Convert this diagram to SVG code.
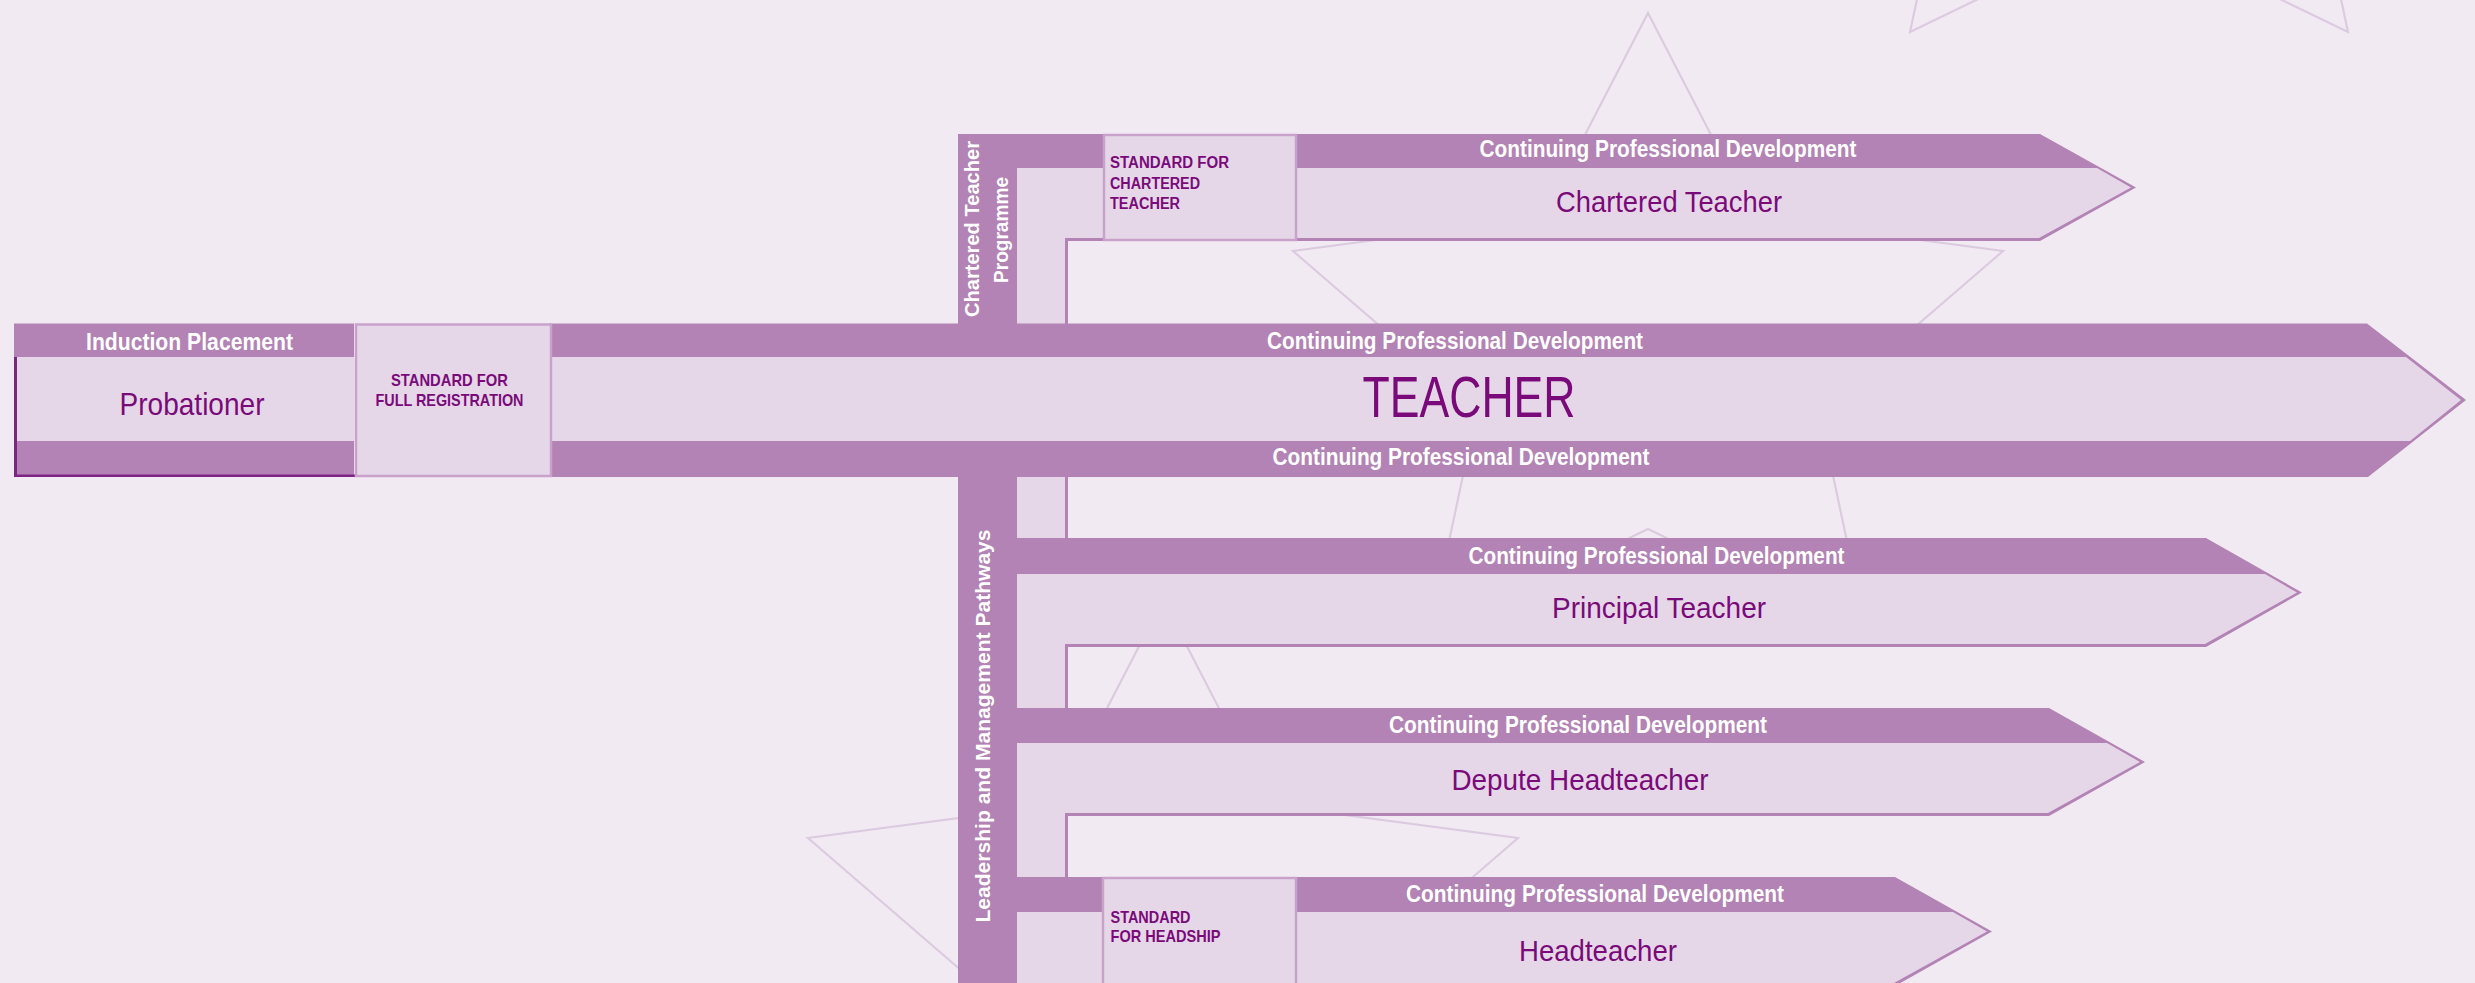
<svg xmlns="http://www.w3.org/2000/svg" xmlns:xlink="http://www.w3.org/1999/xlink" width="2475" height="983" viewBox="0 0 2475 983">
<style>
.bg{fill:#f2eaf2}
.dark{fill:#b283b4}
.light{fill:#e5d7e8}
.std{fill:#e5d7e8;stroke:#c9a2cc;stroke-width:2.5}
.star{fill:none;stroke:#dccbe0;stroke-width:2.2}
.cpd{font-family:"Liberation Sans Narrow","Liberation Sans",Arial,sans-serif;font-weight:bold;font-size:23px;fill:#ffffff;text-anchor:middle}
.role{font-family:"Liberation Sans Narrow","Liberation Sans",Arial,sans-serif;font-size:30px;fill:#7a0a7a;text-anchor:middle}
.big{font-size:57px}
.prob{font-size:32px}
.stdt{font-family:"Liberation Sans Narrow","Liberation Sans",Arial,sans-serif;font-weight:bold;font-size:17px;fill:#7a0a7a}
.small{font-size:16px}
.vert{font-family:"Liberation Sans","DejaVu Sans",Arial,sans-serif;font-weight:bold;font-size:21px;fill:#ffffff;text-anchor:middle}
.vert20{font-size:20px}
</style>
<defs>
<path id="star" d="M0,-344 L106,-139 L355,-106 L171,53 L219,278 L0,172 L-219,278 L-171,53 L-355,-106 L-106,-139 Z"/>
</defs>
<rect class="bg" x="0" y="0" width="2475" height="983"/>
<g id="stars">
<use xlink:href="#star" href="#star" class="star" transform="translate(2129,-246)"/>
<use xlink:href="#star" href="#star" class="star" transform="translate(1648,357)"/>
<use xlink:href="#star" href="#star" class="star" transform="translate(1163,944)"/>
</g>
<g id="connectors">
<rect class="dark" x="958" y="134" width="59" height="190"/>
<rect class="light" x="1017" y="168" width="48" height="156"/>
<rect class="dark" x="1065" y="238" width="3" height="86"/>
<rect class="dark" x="958" y="477" width="59" height="506"/>
<rect class="light" x="1017" y="477" width="48" height="506"/>
<rect class="dark" x="1065" y="477" width="3" height="506"/>
<text class="vert" transform="translate(979,229) rotate(-90)" textLength="176" lengthAdjust="spacingAndGlyphs">Chartered Teacher</text>
<text class="vert" transform="translate(1008,230) rotate(-90)" textLength="106" lengthAdjust="spacingAndGlyphs">Programme</text>
<text class="vert vert20" transform="translate(990,726) rotate(-90)" textLength="393" lengthAdjust="spacingAndGlyphs">Leadership and Management Pathways</text>
</g>
<g id="teacher">
<polygon class="dark" points="549,323.5 2367,323.5 2466,400 2368,477 549,477"/>
<polygon class="light" points="549,357 2406,357 2461,400 2410,441 549,441"/>
<text class="cpd" x="1455" y="348.5" textLength="376" lengthAdjust="spacingAndGlyphs">Continuing Professional Development</text>
<text class="cpd" x="1461" y="465" textLength="377" lengthAdjust="spacingAndGlyphs">Continuing Professional Development</text>
<text class="role big" x="1469" y="417" textLength="213" lengthAdjust="spacingAndGlyphs">TEACHER</text>
</g>
<g id="probationer">
<rect class="dark" x="14" y="323.5" width="340" height="33.5"/>
<rect class="light" x="14" y="357" width="340" height="84"/>
<rect class="dark" x="14" y="441" width="340" height="36"/>
<rect fill="#7e2484" x="14" y="357" width="3" height="120"/>
<rect fill="#7e2484" x="14" y="474.5" width="342" height="2.5"/>
<text class="cpd" x="189.5" y="350" textLength="207" lengthAdjust="spacingAndGlyphs">Induction Placement</text>
<text class="role prob" x="192" y="415" textLength="145" lengthAdjust="spacingAndGlyphs">Probationer</text>
</g>
<g id="standard-full-registration">
<rect class="std" x="356" y="324.5" width="195" height="151.5"/>
<text class="stdt" x="449.5" y="385.7" text-anchor="middle" textLength="117" lengthAdjust="spacingAndGlyphs">STANDARD FOR</text>
<text class="stdt" x="449.5" y="405.7" text-anchor="middle" textLength="148" lengthAdjust="spacingAndGlyphs">FULL REGISTRATION</text>
</g>
<g id="chartered-teacher">
<polygon class="dark" points="1017,134 2040,134 2136,187.5 2040,241 1017,241"/>
<polygon class="light" points="1017,168 2097,168 2131,187.5 2039,238 1065,238 1065,241 1017,241"/>
<text class="cpd" x="1668" y="157" textLength="377" lengthAdjust="spacingAndGlyphs">Continuing Professional Development</text>
<text class="role" x="1669" y="212" textLength="226" lengthAdjust="spacingAndGlyphs">Chartered Teacher</text>
</g>
<g id="standard-chartered-teacher">
<rect class="std" x="1104" y="135" width="192" height="105"/>
<text class="stdt small" x="1110" y="168" textLength="119" lengthAdjust="spacingAndGlyphs">STANDARD FOR</text>
<text class="stdt small" x="1110" y="188.5" textLength="90" lengthAdjust="spacingAndGlyphs">CHARTERED</text>
<text class="stdt small" x="1110" y="209" textLength="70" lengthAdjust="spacingAndGlyphs">TEACHER</text>
</g>
<g id="principal-teacher">
<polygon class="dark" points="1017,538 2206,538 2302,592.5 2206,647 1017,647"/>
<polygon class="light" points="1017,574 2265,574 2297,592.5 2205,644 1065,644 1065,647 1017,647"/>
<text class="cpd" x="1656.5" y="564" textLength="376" lengthAdjust="spacingAndGlyphs">Continuing Professional Development</text>
<text class="role" x="1659" y="618" textLength="214" lengthAdjust="spacingAndGlyphs">Principal Teacher</text>
</g>
<g id="depute-headteacher">
<polygon class="dark" points="1017,708 2049,708 2145,762 2049,816 1017,816"/>
<polygon class="light" points="1017,743 2107,743 2140,762 2048,813 1065,813 1065,816 1017,816"/>
<text class="cpd" x="1578" y="733" textLength="378" lengthAdjust="spacingAndGlyphs">Continuing Professional Development</text>
<text class="role" x="1580" y="790" textLength="257" lengthAdjust="spacingAndGlyphs">Depute Headteacher</text>
</g>
<g id="headteacher">
<polygon class="dark" points="1017,877 1895,877 1992,931.5 1895,986 1017,986"/>
<polygon class="light" points="1017,912 1953,912 1987,931.5 1894,983 1065,983 1065,986 1017,986"/>
<text class="cpd" x="1595" y="902" textLength="378" lengthAdjust="spacingAndGlyphs">Continuing Professional Development</text>
<text class="role" x="1598" y="960.5" textLength="158" lengthAdjust="spacingAndGlyphs">Headteacher</text>
</g>
<g id="standard-headship">
<rect class="std" x="1103" y="878" width="193" height="112"/>
<text class="stdt" x="1110.5" y="922.7" textLength="80" lengthAdjust="spacingAndGlyphs">STANDARD</text>
<text class="stdt" x="1110.5" y="942" textLength="110" lengthAdjust="spacingAndGlyphs">FOR HEADSHIP</text>
</g>
</svg>
